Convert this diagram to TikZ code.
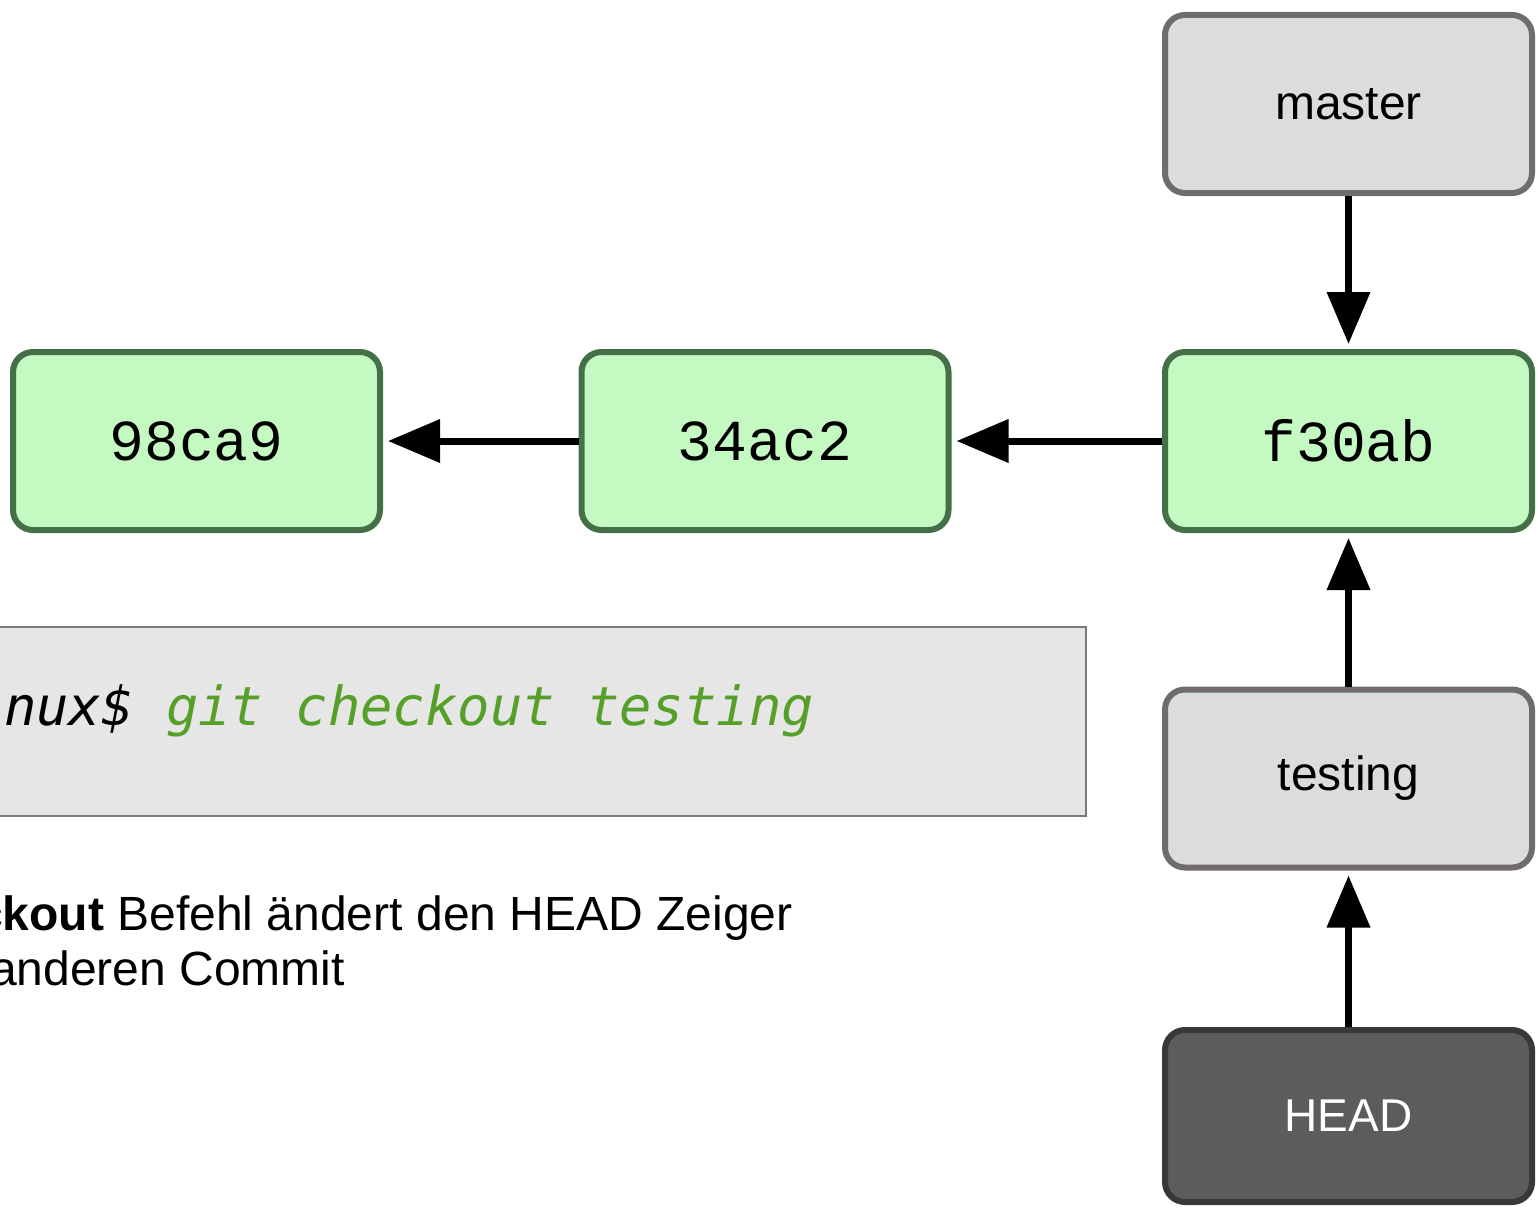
\documentclass[tikz,border=0pt]{standalone}
\usepackage{fontspec}
\setmainfont{Liberation Sans}
\setmonofont{DejaVu Sans Mono}
\newfontfamily\hashfont{Liberation Mono}
\usetikzlibrary{arrows.meta}
\definecolor{cfill}{HTML}{C4F9C2}
\definecolor{cborder}{HTML}{446F47}
\definecolor{bfill}{HTML}{DADDDC}
\definecolor{bborder}{HTML}{706C6C}
\definecolor{hfill}{HTML}{5B5C5B}
\definecolor{hborder}{HTML}{383838}
\definecolor{codefill}{HTML}{E6E6E6}
\definecolor{codeborder}{HTML}{7A7A7A}
\definecolor{codegreen}{HTML}{56A02A}
\begin{document}
\begin{tikzpicture}[x=1pt,y=-1pt,
  box/.style={draw, line width=6pt, rounded corners=20pt, minimum width=367pt, minimum height=178pt, inner sep=0pt},
  commit/.style={box, draw=cborder, fill=cfill, font=\hashfont\fontsize{58}{60}\selectfont},
  branch/.style={box, draw=bborder, fill=bfill, font=\fontsize{48}{50}\selectfont},
  headbox/.style={box, minimum height=172pt, draw=hborder, fill=hfill, text=white, font=\fontsize{46}{50}\selectfont},
  ptr/.style={line width=7pt, -{Triangle[width=42pt,length=52pt]}, shorten >=5pt},
  codebox/.style={draw=codeborder, fill=codefill, line width=1.5pt},
  txt/.style={inner sep=0pt, anchor=base west, font=\fontsize{48}{55}\selectfont},
]
\useasboundingbox (0,0) rectangle (1538,1207);
\clip (0,0) rectangle (1538,1207);

% commits and pointers
\node[branch] (master) at (1348.5,104) {master};
\node[commit] (f30ab) at (1348.5,441) {f30ab};
\node[commit] (c34ac2) at (765,441) {34ac2};
\node[commit] (c98ca9) at (196.5,441) {98ca9};
\node[branch] (testing) at (1348.5,778.5) {testing};
\node[headbox] (head) at (1348.5,1116) {HEAD};

\draw[ptr] (master.south) -- (f30ab.north);
\draw[ptr] (f30ab.west) -- (c34ac2.east);
\draw[ptr] (c34ac2.west) -- (c98ca9.east);
\draw[ptr] (testing.north) -- (f30ab.south);
\draw[ptr] (head.north) -- (testing.south);

% command box
\node[codebox, minimum width=1088pt, minimum height=189pt, inner sep=0pt, anchor=north west] (code) at (-3,626) {};
\node[inner sep=0pt, anchor=base west, font=\ttfamily\itshape\fontsize{53.8}{60}\selectfont] (cmd) at (4,725)
  {nux\$ \textcolor{codegreen}{git checkout testing}};

% caption
\node[txt] (line1) at (-24,930) {\textbf{ckout} Befehl ändert den HEAD Zeiger};
\node[txt] (line2) at (-10,985) {anderen Commit};
\end{tikzpicture}
\end{document}
